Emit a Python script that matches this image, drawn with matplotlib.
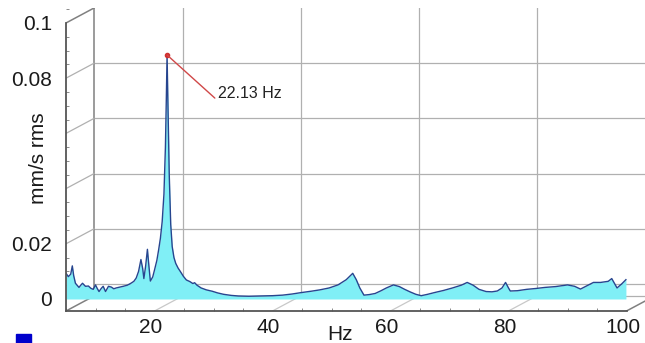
import matplotlib.pyplot as plt
from matplotlib.patches import Patch
from matplotlib.ticker import MultipleLocator
from matplotlib.transforms import ScaledTranslation

plt.rcParams['font.family'] = ['Liberation Sans', 'DejaVu Sans']

# spectrum (Hz, mm/s rms)
freq = [5.0, 5.4, 5.8, 6.07, 6.3, 6.6, 7.2, 7.5, 7.8, 8.3, 8.8, 9.2, 9.6, 10.0,
        10.3, 10.6, 11.0, 11.3, 11.7, 12.2, 12.7, 13.1, 13.5, 14.1, 14.7, 15.4,
        16.0, 16.5, 16.9, 17.3, 17.7, 18.0, 18.2, 18.5, 18.8, 19.05, 19.3, 19.7,
        20.0, 20.4, 20.7, 21.0, 21.3, 21.6, 21.85, 22.0, 22.13, 22.3, 22.5, 22.75,
        23.0, 23.3, 23.6, 24.0, 24.4, 24.9, 25.4, 26.0, 26.5, 26.8, 27.2, 27.9,
        28.8, 29.8, 30.7, 31.7, 33.0, 34.2, 36.0, 37.9, 40.0, 41.7, 43.3, 44.8,
        46.5, 48.0, 49.6, 51.1, 52.5, 53.6, 54.2, 54.8, 55.5, 56.4, 57.4, 58.4,
        59.3, 60.5, 61.5, 62.4, 63.4, 64.3, 65.2, 66.3, 67.4, 69.0, 70.5, 72.0,
        73.0, 74.0, 75.0, 76.2, 77.2, 78.1, 78.9, 79.5, 80.0, 80.3, 81.5, 83.1,
        84.6, 86.2, 88.0, 90.0, 91.2, 92.2, 93.3, 94.4, 95.6, 96.9, 97.5, 98.0,
        98.4, 99.2, 99.9]
amp = [0.0093, 0.0081, 0.0090, 0.0120, 0.0085, 0.0057, 0.0042, 0.0050, 0.0057,
       0.0046, 0.0047, 0.0039, 0.0035, 0.0051, 0.0038, 0.0027, 0.0039, 0.0046,
       0.0027, 0.0046, 0.0043, 0.0037, 0.0040, 0.0043, 0.0046, 0.0050, 0.0057,
       0.0064, 0.0076, 0.0100, 0.0143, 0.0110, 0.0074, 0.0120, 0.0180, 0.0120,
       0.0065, 0.0080, 0.0105, 0.0140, 0.0178, 0.0220, 0.0280, 0.0380, 0.0550,
       0.0720, 0.0884, 0.0680, 0.0450, 0.0270, 0.0190, 0.0150, 0.0129, 0.0112,
       0.0099, 0.0082, 0.0069, 0.0063, 0.0056, 0.0059, 0.0050, 0.0040, 0.0033,
       0.0028, 0.0022, 0.0017, 0.0013, 0.0011, 0.0010, 0.0011, 0.0012, 0.0014,
       0.0018, 0.0023, 0.0028, 0.0033, 0.0040, 0.0051, 0.0070, 0.0093, 0.0070,
       0.0040, 0.0014, 0.0016, 0.0020, 0.0030, 0.0040, 0.0051, 0.0045, 0.0035,
       0.0025, 0.0017, 0.0012, 0.0017, 0.0023, 0.0031, 0.0040, 0.0050, 0.0060,
       0.0050, 0.0035, 0.0027, 0.0026, 0.0029, 0.0040, 0.0060, 0.0040, 0.0029,
       0.0030, 0.0035, 0.0038, 0.0042, 0.0045, 0.0051, 0.0046, 0.0036, 0.0048,
       0.0060, 0.0060, 0.0064, 0.0074, 0.0055, 0.0040, 0.0055, 0.0070]

x_ticks = [20, 40, 60, 80, 100]
y_ticks = [0, 0.02, 0.04, 0.06, 0.08, 0.1]
y_tick_labels = ['0', '0.02', '', '', '0.08', '0.1']
peak_freq = 22.13
peak_amp = 0.0884
peak_label = '22.13 Hz'

x_min, x_max = 5, 100
y_min, y_max = -0.00435, 0.1
dx, dy = 4.75, 0.00543  # depth of the pseudo 3d box, in data units

fig = plt.figure(figsize=(6.45, 3.43), dpi=100)
ax = fig.add_axes([66 / 645, 32 / 343, 579 / 645, 303 / 343])
ax.set_xlim(x_min, x_min + 579 / 5.9)
ax.set_ylim(y_min, y_max + dy)

grid = '#b0b0b0'
edge = '#808080'

# back wall
for v in y_ticks[:-1]:
    ax.plot([x_min + dx, x_max + dx + 5], [v + dy, v + dy], color=grid, lw=0.9, zorder=1)
for f in x_ticks:
    ax.plot([f + dx, f + dx], [y_min + dy, y_max + dy], color=grid, lw=0.9, zorder=1)
ax.plot([x_min + dx, x_min + dx], [y_min + dy, y_max + dy], color=edge, lw=1.1, zorder=1)

# left wall
for v in y_ticks[1:-1]:
    ax.plot([x_min, x_min + dx], [v, v + dy], color=grid, lw=0.9, zorder=1)
ax.plot([x_min, x_min + dx], [y_max, y_max + dy], color=edge, lw=1.1, zorder=1)
ax.plot([x_min, x_min + dx], [y_min, y_min + dy], color=edge, lw=1.1, zorder=1)

# floor
ax.plot([x_min + dx, x_max + dx], [y_min + dy, y_min + dy], color=grid, lw=0.9, zorder=1)
for f in x_ticks[:-1]:
    ax.plot([f, f + dx], [y_min, y_min + dy], color='#c8c8c8', lw=0.9, zorder=1)
ax.plot([x_max, x_max + dx], [y_min, y_min + dy], color=edge, lw=1.1, zorder=1)

# spectrum
ax.fill_between(freq, 0, amp, color='#80eff6', lw=0, zorder=3)
ax.plot(freq, amp, color='#27458f', lw=1.0, zorder=4)

# peak marker
ax.plot(peak_freq, peak_amp, 'o', color='#d03030', ms=3, zorder=6)
ax.annotate(peak_label, xy=(peak_freq, peak_amp), xytext=(30.7, 0.0746),
            ha='left', va='center', fontsize=11.5, color='#222222',
            arrowprops=dict(arrowstyle='-', color='#d04848', lw=1,
                            shrinkA=0, shrinkB=0, relpos=(0, 0)), zorder=6)

# axes
for s in ['top', 'right']:
    ax.spines[s].set_visible(False)
ax.spines['left'].set_bounds(y_min, y_max)
ax.spines['bottom'].set_bounds(x_min, x_max)
for s in ['left', 'bottom']:
    ax.spines[s].set_color('#555555')
    ax.spines[s].set_linewidth(1.3)
    ax.spines[s].set_zorder(5)

ax.set_xticks(x_ticks)
ax.set_yticks(y_ticks)
ax.set_yticklabels(y_tick_labels)
ax.xaxis.set_minor_locator(MultipleLocator(5))
ax.yaxis.set_minor_locator(MultipleLocator(0.005))
ax.tick_params(axis='x', which='major', length=0, pad=5, labelsize=15, labelcolor='#1a1a1a')
ax.tick_params(axis='y', which='major', length=0, pad=10, labelsize=15, labelcolor='#1a1a1a')
ax.tick_params(which='minor', direction='in', length=2.5, color='#777777')

# x labels sit a few pixels left of their ticks
shift = ScaledTranslation(-4 / 100, 0, fig.dpi_scale_trans)
for lab in ax.get_xticklabels():
    lab.set_transform(lab.get_transform() + shift)

ax.set_xlabel('Hz', fontsize=15, color='#1a1a1a')
ax.xaxis.set_label_coords(0.473, -0.047)
ax.set_ylabel('mm/s rms', fontsize=15, color='#1a1a1a')
ax.yaxis.set_label_coords(-0.031, 0.505)

fig.legend(handles=[Patch(color='#0000cc')], labels=[''], loc='lower left',
           bbox_to_anchor=(16 / 645, -6 / 343), frameon=False, fontsize=11,
           handlelength=1, handleheight=1, borderpad=0, borderaxespad=0,
           handletextpad=0)

fig.savefig('out.png', dpi=100)
